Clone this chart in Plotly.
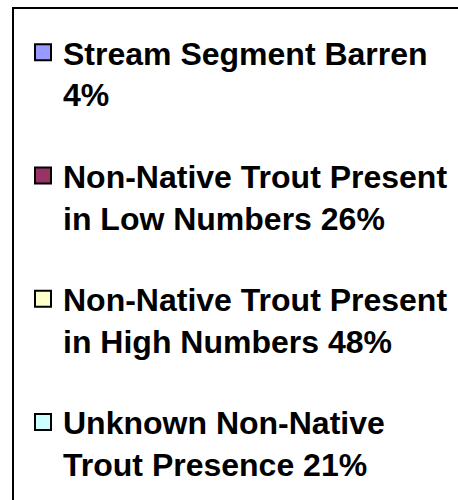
import plotly.graph_objects as go

# Data
categories = [
    "Stream Segment Barren",
    "Non-Native Trout Present<br>in Low Numbers",
    "Non-Native Trout Present<br>in High Numbers",
    "Unknown Non-Native<br>Trout Presence",
]
percents = [4, 26, 48, 21]
colors = ["#9999FF", "#993366", "#FFFFCC", "#CCFFFF"]

W, H = 458, 500

fig = go.Figure()
for i, (cat, pct, col) in enumerate(zip(categories, percents, colors)):
    if "<br>" in cat:
        name = f"{cat} {pct}%"
    else:
        name = f"{cat}<br>{pct}%"
    fig.add_trace(go.Scatter(
        x=[None], y=[None], mode="markers", name=name,
        customdata=[pct], legendgroup=f"g{i}",
        marker=dict(symbol="square", size=16, color=col,
                    line=dict(color="#000000", width=2)),
    ))

fig.update_layout(
    width=W, height=H,
    margin=dict(l=0, r=0, t=0, b=0, autoexpand=False),
    paper_bgcolor="white", plot_bgcolor="white",
    xaxis=dict(visible=False, range=[0, 1]), yaxis=dict(visible=False, range=[0, 1]),
    showlegend=True,
    legend=dict(
        xref="paper", yref="paper",
        x=23 / W, xanchor="left",
        y=1 - 25 / H, yanchor="top",
        traceorder="grouped", tracegroupgap=37,
        valign="top", itemwidth=30,
        borderwidth=0, bgcolor="rgba(0,0,0,0)",
        maxheight=2000,
        font=dict(family="Liberation Sans, Arial, sans-serif", size=32,
                  color="#000000", weight="bold"),
        itemclick=False, itemdoubleclick=False,
    ),
)
# legend frame: only its left and top sides fall inside the picture
frame = dict(color="#000000", width=2)
fig.add_shape(type="line", xref="paper", yref="paper", layer="above",
              x0=13 / W, x1=13 / W, y0=-0.2, y1=1 - 8 / H, line=frame)
fig.add_shape(type="line", xref="paper", yref="paper", layer="above",
              x0=12 / W, x1=1.2, y0=1 - 8 / H, y1=1 - 8 / H, line=frame)

fig.write_html(
    "out.html",
    config={"displayModeBar": False},
    post_script=(
        "document.body.style.margin='0';"
        "document.body.style.overflow='hidden';"
        "document.documentElement.style.overflow='hidden';"
    ),
)
